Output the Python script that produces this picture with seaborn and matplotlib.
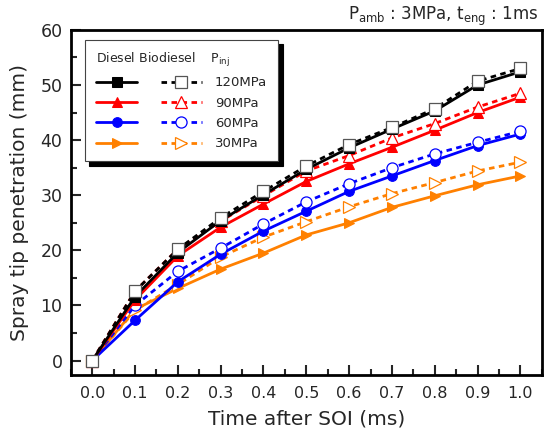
import numpy as np
import pandas as pd
import seaborn as sns
import matplotlib.pyplot as plt
from matplotlib.ticker import MultipleLocator

# time after start of injection (ms)
time_ms = [0.0, 0.1, 0.2, 0.3, 0.4, 0.5, 0.6, 0.7, 0.8, 0.9, 1.0]

# spray tip penetration (mm), diesel (solid) and biodiesel (dashed)
diesel_120 = [0, 11.6, 19.6, 25.4, 30.1, 34.7, 38.6, 42.0, 45.3, 50.0, 52.4]
diesel_90 = [0, 11.0, 19.0, 24.2, 28.4, 32.5, 35.7, 38.7, 41.8, 45.0, 47.8]
diesel_60 = [0, 7.3, 14.3, 19.3, 23.5, 27.1, 30.7, 33.5, 36.3, 39.0, 41.1]
diesel_30 = [0, 9.3, 13.1, 16.6, 19.5, 22.8, 25.0, 27.8, 29.9, 31.9, 33.5]

bio_120 = [0, 12.6, 20.2, 25.9, 30.7, 35.3, 39.2, 42.3, 45.7, 50.7, 53.0]
bio_90 = [0, 12.6, 20.2, 25.3, 29.9, 34.4, 37.2, 40.4, 43.0, 46.0, 48.5]
bio_60 = [0, 10.0, 16.2, 20.4, 24.8, 28.8, 32.1, 35.0, 37.5, 39.6, 41.6]
bio_30 = [0, 9.1, 13.8, 18.8, 22.4, 25.2, 27.9, 30.3, 32.3, 34.4, 36.0]

pinj_labels = ["120MPa", "90MPa", "60MPa", "30MPa"]
colors = ["black", "#ff0000", "#0000ff", "#ff8000"]
markers = ["s", "^", "o", ">"]

diesel = [diesel_120, diesel_90, diesel_60, diesel_30]
bio = [bio_120, bio_90, bio_60, bio_30]

sns.set_style("ticks")
plt.rcParams["font.family"] = ["DejaVu Sans"]

fig = plt.figure(figsize=(5.45, 4.4), dpi=100)
ax = fig.add_axes([0.13, 0.148, 0.864, 0.784])

d_handles = []
b_handles = []
# draw from the lowest pressure up so the 120MPa lines sit on top
for i in reversed(range(4)):
    df = pd.DataFrame({"t": time_ms, "d": diesel[i], "b": bio[i]})
    sns.lineplot(data=df, x="t", y="d", ax=ax, color=colors[i], marker=markers[i],
                 markersize=7, markeredgecolor=colors[i], markerfacecolor=colors[i],
                 linewidth=2, linestyle="-")
    d_handles.insert(0, ax.get_lines()[-1])
    sns.lineplot(data=df, x="t", y="b", ax=ax, color=colors[i], marker=markers[i],
                 markersize=8, markeredgecolor=colors[i] if i > 0 else "#555555",
                 markerfacecolor="white", markeredgewidth=0.9,
                 linewidth=2, linestyle=(0, (2.0, 1.6)))
    b_handles.insert(0, ax.get_lines()[-1])

ax.set_xlim(-0.05, 1.05)
ax.set_ylim(-2.6, 60)
ax.xaxis.set_major_locator(MultipleLocator(0.1))
ax.xaxis.set_minor_locator(MultipleLocator(0.05))
ax.yaxis.set_major_locator(MultipleLocator(10))
ax.yaxis.set_minor_locator(MultipleLocator(5))
ax.xaxis.set_major_formatter(plt.FormatStrFormatter("%.1f"))
ax.tick_params(which="major", direction="in", length=7, width=1.5, labelsize=11.5, pad=8)
ax.tick_params(which="minor", direction="in", length=4, width=1.5)
ax.tick_params(axis="y", labelsize=12.5, pad=6)
for s in ax.spines.values():
    s.set_linewidth(2)
    s.set_color("black")

ax.set_xlabel("Time after SOI (ms)", fontsize=14.5, labelpad=6)
ax.set_ylabel("Spray tip penetration (mm)", fontsize=14.5, labelpad=8)

leg = ax.legend(d_handles + b_handles, ["", "", "", ""] + pinj_labels,
                ncol=2, loc="upper left", bbox_to_anchor=(0.016, 0.99),
                title="Diesel Biodiesel    P$_{\\mathregular{inj}}$", title_fontsize=9,
                fontsize=9.5, handlelength=3.1, columnspacing=0.8, handletextpad=1.0,
                labelspacing=0.55, borderpad=0.85, fancybox=False, frameon=True,
                shadow={"color": "black", "alpha": 1, "ox": 3, "oy": -3})
leg._legend_box.align = "left"
leg.get_frame().set_edgecolor("#444444")
leg.get_frame().set_linewidth(0.8)

fig.text(0.987, 0.962, "P$_{\\mathregular{amb}}$ : 3MPa, t$_{\\mathregular{eng}}$ : 1ms",
         ha="right", va="center", fontsize=12)

fig.savefig("out.png", dpi=100)
